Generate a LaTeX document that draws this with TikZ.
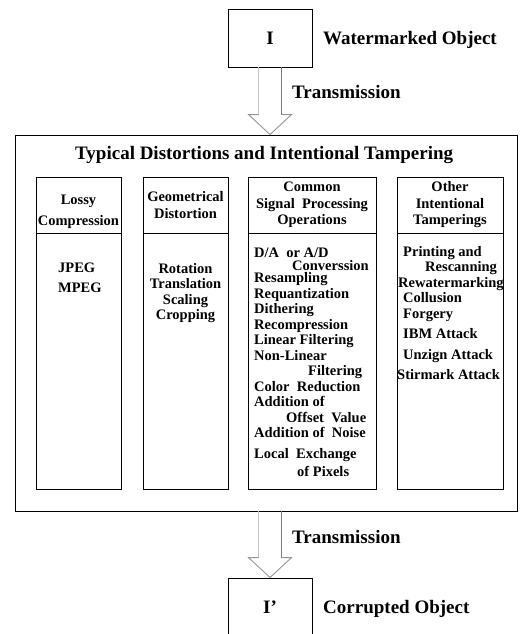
\documentclass[tikz,border=0pt]{standalone}
\usepackage{fontspec}
\setmainfont{Liberation Serif}
\usetikzlibrary{positioning,calc}

\definecolor{shaftlight}{HTML}{C4C4C4}
\definecolor{shaftdark}{HTML}{7A7A7A}

% hollow transmission arrow: start point, tip point
\newcommand{\transarrow}[2]{%
  \draw[shaftlight, line width=1pt] ($(#1)+(-11.5,0)$) -- ($(#2)+(-11.5,-20)$);
  \draw[shaftdark, line width=1pt] ($(#1)+(11.5,0)$) -- ($(#2)+(11.5,-20)$);
  \draw[shaftdark!80, line width=0.9pt] ($(#2)+(-11.5,-20)$) -- ($(#2)+(-21.5,-20)$)
    -- (#2) -- ($(#2)+(21.5,-20)$) -- ($(#2)+(11.5,-20)$);
}

\begin{document}
\begin{tikzpicture}[
    x=1pt, y=-1pt,
    objbox/.style={
        rectangle,
        draw,
        line width=0.9pt,
        minimum width=84pt,
        minimum height=58pt,
        inner sep=0pt,
        font=\fontsize{19}{20}\selectfont\bfseries
    },
    caption/.style={
        anchor=west,
        inner sep=0pt,
        font=\fontsize{19}{20}\selectfont\bfseries
    },
    frame/.style={
        rectangle,
        draw,
        line width=0.9pt,
        inner sep=0pt
    },
    headbox/.style={
        rectangle,
        draw,
        line width=0.9pt,
        minimum height=56pt,
        inner sep=0pt,
        align=center,
        font=\fontsize{14.5}{16.5}\selectfont\bfseries
    },
    headtext/.style={
        inner sep=0pt,
        align=center,
        font=\fontsize{14.5}{16.5}\selectfont\bfseries
    },
    bodybox/.style={
        rectangle,
        draw,
        line width=0.9pt,
        minimum height=256pt,
        inner sep=0pt
    },
    bodytext/.style={
        inner sep=0pt,
        font=\fontsize{14.5}{15.5}\selectfont\bfseries
    }
]
\useasboundingbox (0,0) rectangle (519,634);

% objects
\node[objbox] (imgI) at (270,38) {I};
\node[caption] (wmlabel) at (323,40) {Watermarked Object};

\node[frame, minimum width=502.5pt, minimum height=376pt] (tamper) at (266.25,323) {};
\node[caption] (tamptitle) at (75,155) {Typical Distortions and Intentional Tampering};

\node[objbox] (imgIp) at (270,607) {I'};
\node[caption] (corlabel) at (323,609) {Corrupted Object};

% columns
\node[headbox, minimum width=85pt] (lossyhead) at (78.5,205) {};
\node[headtext] (lossytitle) at ($(lossyhead)+(0,7)$)
{Lossy\\[4.5pt]Compression};
\node[headbox, minimum width=85pt] (geohead) at (185.5,205)
{Geometrical\\Distortion};
\node[headbox, minimum width=128pt] (sighead) at (312,205)
{Common\\Signal~ Processing\\Operations};
\node[headbox, minimum width=106pt] (otherhead) at (450,205)
{Other\\Intentional\\Tamperings};

\node[bodybox, minimum width=85pt, below=0pt of lossyhead] (lossybody) {};
\node[bodybox, minimum width=85pt, below=0pt of geohead] (geobody) {};
\node[bodybox, minimum width=128pt, below=0pt of sighead] (sigbody) {};
\node[bodybox, minimum width=106pt, below=0pt of otherhead] (otherbody) {};

\node[bodytext, anchor=north west, align=left] (lossylist) at (58,263)
{JPEG\\[4.5pt]MPEG};
\node[bodytext, anchor=north, align=center] (geolist) at (185.5,263)
{Rotation\\Translation\\Scaling\\Cropping};
\node[bodytext, anchor=north west, align=left] (siglist) at (254,247.5)
{D/A~ or A/D\\[-2.5pt]
\hspace*{38pt}Converssion\\[-3pt]
Resampling\\
Requantization\\
Dithering\\
Recompression\\
Linear Filtering\\
Non-Linear\\
\hspace*{54pt}Filtering\\
Color~ Reduction\\
Addition of\\
\hspace*{32pt}Offset~ Value\\
Addition of~ Noise\\[5.5pt]
Local~ Exchange\\[2.5pt]
\hspace*{43pt}of Pixels};
\node[bodytext, anchor=north west, align=left] (otherlist) at (403,246)
{Printing and\\
\hspace*{22pt}Rescanning\\
\hspace*{-5pt}Rewatermarking\\
Collusion\\
Forgery\\[5pt]
IBM Attack\\[5pt]
Unzign Attack\\[5pt]
\hspace*{-6pt}Stirmark Attack};

% transmission arrows
\coordinate (toptip) at (imgI.south |- tamper.north);
\transarrow{imgI.south}{toptip}
\node[caption] (trans1) at (292,92) {Transmission};

\coordinate (botstart) at (imgIp.north |- tamper.south);
\transarrow{botstart}{imgIp.north}
\node[caption] (trans2) at (292,537) {Transmission};

\end{tikzpicture}
\end{document}
